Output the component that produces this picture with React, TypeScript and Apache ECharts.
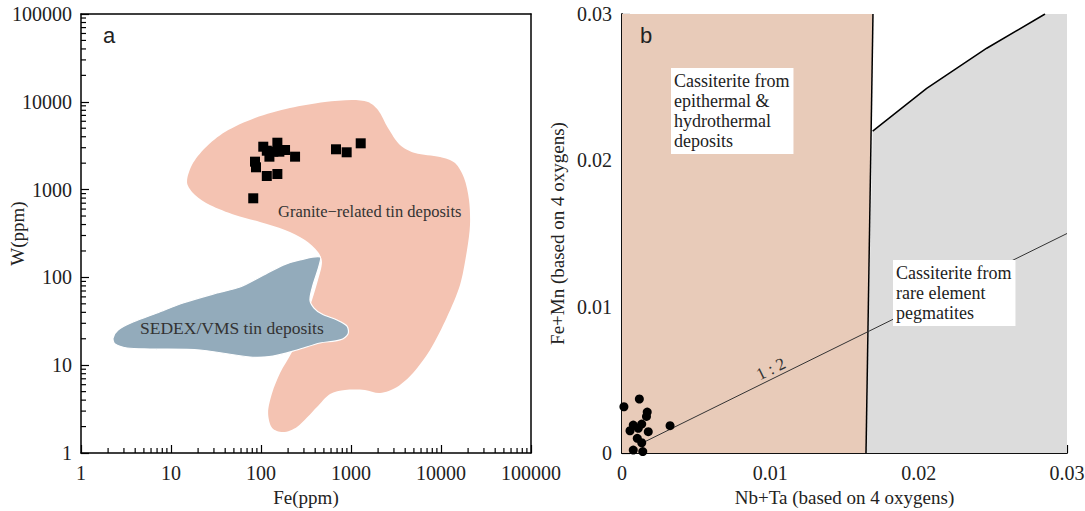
import React, { useEffect, useRef } from "react";
import * as echarts from "echarts";

// ---------- Panel a (log-log) ----------
const logTicks = [1, 10, 100, 1000, 10000, 100000];
const minorMultipliers = [2, 3, 4, 5, 6, 7, 8, 9];

// Granite-related tin deposits field outline [Fe, W]
const granitePts: [number, number][] = [
  [15.1, 1189], [17.1, 1905], [23.9, 2977], [39.8, 4529], [85.8, 6534], [210, 8490],
  [514, 9940], [1026, 10490], [1545, 9940], [1995, 8070], [2576, 5035], [3501, 3223],
  [5140, 2612], [9750, 2350], [14320, 2009], [18030, 1355], [20470, 762], [21000, 395],
  [19450, 205], [16260, 81.9], [11660, 35.4], [7550, 14.9], [4885, 8.15], [3245, 5.65],
  [2100, 4.82], [1430, 5.22], [858, 5.22], [585, 4.7], [419, 3.34], [251, 1.98],
  [176, 1.73], [133, 1.93], [120, 2.86], [133, 4.82], [163, 8.15], [221, 14.1],
  [308, 32.7], [369, 55.3], [430, 93.4], [476, 150], [430, 195], [308, 267],
  [185, 347], [97.5, 428], [51.4, 514], [27.1, 668], [18.5, 868],
];

// SEDEX/VMS tin deposits field outline [Fe, W]
const sedexPts: [number, number][] = [
  [2.27, 20.4], [2.58, 25.2], [3.78, 31.0], [6.99, 39.3], [13.6, 51.1], [32.4, 66.4],
  [58.4, 77.8], [97.5, 101], [176, 138], [271, 158], [453, 171], [441, 135],
  [378, 81.9], [350, 55.3], [388, 44.8], [476, 38.3], [699, 32.7], [903, 27.9],
  [926, 22.7], [755, 19.4], [453, 17.9], [251, 14.9], [136, 12.7], [75.5, 12.4],
  [21.0, 14.9], [5.84, 15.3], [3.24, 15.7], [2.39, 17.4],
];

// Samples [Fe ppm, W ppm]
const samplesA: [number, number][] = [
  [106, 3080], [116, 2773], [124, 2371], [137, 2703], [152, 3420], [160, 2703],
  [185, 2825], [239, 2371], [85.8, 2080], [88, 1795], [116, 1429], [152, 1506],
  [82, 796], [681, 2878], [895, 2660], [1282, 3366],
];

// ---------- Panel b (linear) ----------
const orangeField: [number, number][] = [[0, 0], [0.01645, 0], [0.01692, 0.03], [0, 0.03]];
const greyField: [number, number][] = [
  [0.01645, 0], [0.03, 0], [0.03, 0.03], [0.02852, 0.03], [0.02459, 0.02766],
  [0.02054, 0.02492], [0.0169, 0.022],
];
const boundaryLine: [number, number][] = [[0.01645, 0], [0.01692, 0.03]];
const curveLine: [number, number][] = [[0.0169, 0.022], [0.02054, 0.02492], [0.02459, 0.02766], [0.02852, 0.03]];
const ratioLine: [number, number][] = [[0.0015, 0.00075], [0.03, 0.015]];

// Samples [Nb+Ta, Fe+Mn]
const samplesB: [number, number][] = [
  [0.00013, 0.00316], [0.00117, 0.00369], [0.0017, 0.0028], [0.00165, 0.0025],
  [0.00324, 0.00187], [0.00076, 0.00191], [0.00133, 0.00198], [0.00054, 0.00152],
  [0.0011, 0.00169], [0.00177, 0.00146], [0.00103, 0.001], [0.00133, 0.0007],
  [0.00076, 0.0002], [0.0014, 0.0001],
];

const SERIF = "'Liberation Serif', 'Times New Roman', serif";
const TXT = "#222";

export default function App() {
  const ref = useRef<HTMLDivElement>(null);
  useEffect(() => {
    if (!ref.current) return;
    const chart = echarts.init(ref.current, undefined, { renderer: "svg" });

    const polySeries = (pts: [number, number][], fill: string, axis: number, anchor: number[], stroke?: string, smooth = 0.3) => ({
      type: "custom",
      xAxisIndex: axis,
      yAxisIndex: axis,
      data: [anchor],
      silent: true,
      z: 1,
      renderItem: (_p: any, api: any) => ({
        type: "polygon",
        shape: { points: pts.map((p) => api.coord(p)), smooth },
        style: { fill, stroke: stroke || "none", lineWidth: stroke ? 1.2 : 0 },
      }),
    });

    const minorVals: number[] = [];
    for (let k = 0; k < 5; k++) for (const m of minorMultipliers) minorVals.push(m * Math.pow(10, k));

    const minorTickSeries = {
      type: "custom",
      xAxisIndex: 0,
      yAxisIndex: 0,
      data: [[10, 10]],
      silent: true,
      z: 5,
      renderItem: (_p: any, api: any) => {
        const children: any[] = [];
        const x0 = api.coord([1, 1])[0];
        const y0 = api.coord([1, 1])[1];
        for (const v of minorVals) {
          const x = api.coord([v, 1])[0];
          const y = api.coord([1, v])[1];
          children.push({ type: "line", shape: { x1: x, y1: y0, x2: x, y2: y0 - 5 }, style: { stroke: "#000", lineWidth: 1.2 } });
          children.push({ type: "line", shape: { x1: x0, y1: y, x2: x0 + 5, y2: y }, style: { stroke: "#000", lineWidth: 1.2 } });
        }
        return { type: "group", children };
      },
    };

    const frameAxis = (pos: string, gridIndex: number) => ({
      type: "value",
      gridIndex,
      position: pos,
      min: 0,
      max: 1,
      axisLine: { show: true, lineStyle: { color: "#000", width: 1.5 } },
      axisTick: { show: false },
      axisLabel: { show: false },
      splitLine: { show: false },
    });

    const labelStyle = { color: TXT, fontFamily: SERIF, fontSize: 20 };
    const nameStyle = { color: TXT, fontFamily: SERIF, fontSize: 19 };

    const option: any = {
      animation: false,
      grid: [
        { left: 81, top: 14, width: 450, height: 439, containLabel: false, outerBoundsMode: "none" },
        { left: 622, top: 14, width: 445, height: 439, containLabel: false, outerBoundsMode: "none" },
      ],
      xAxis: [
        {
          type: "log", logBase: 10, gridIndex: 0, min: logTicks[0], max: logTicks[logTicks.length - 1],
          position: "bottom",
          name: "Fe(ppm)", nameLocation: "middle", nameGap: 33, nameTextStyle: nameStyle,
          axisLine: { lineStyle: { color: "#000", width: 1.5 } },
          axisTick: { inside: true, length: 8, lineStyle: { color: "#000", width: 1.2 } },
          axisLabel: { ...labelStyle, margin: 10, formatter: (v: number) => String(Math.round(v)) },
          splitLine: { show: false },
        },
        frameAxis("top", 0),
        {
          type: "value", gridIndex: 1, min: 0, max: 0.03, interval: 0.01, position: "bottom",
          name: "Nb+Ta (based on 4 oxygens)", nameLocation: "middle", nameGap: 33, nameTextStyle: nameStyle,
          axisLine: { lineStyle: { color: "#000", width: 1.5 } },
          axisTick: { inside: true, length: 8, lineStyle: { color: "#000", width: 1.2 } },
          minorTick: { show: true, splitNumber: 2, length: 5, lineStyle: { color: "#000", width: 1.2 } },
          axisLabel: { ...labelStyle, margin: 10 },
          splitLine: { show: false },
        },
        frameAxis("top", 1),
      ],
      yAxis: [
        {
          type: "log", logBase: 10, gridIndex: 0, min: logTicks[0], max: logTicks[logTicks.length - 1],
          position: "left",
          name: "W(ppm)", nameLocation: "middle", nameGap: 54, nameMoveOverlap: false, nameTextStyle: nameStyle,
          axisLine: { lineStyle: { color: "#000", width: 1.5 } },
          axisTick: { inside: true, length: 8, lineStyle: { color: "#000", width: 1.2 } },
          axisLabel: { ...labelStyle, margin: 9, formatter: (v: number) => String(Math.round(v)) },
          splitLine: { show: false },
        },
        frameAxis("right", 0),
        {
          type: "value", gridIndex: 1, min: 0, max: 0.03, interval: 0.01, position: "left",
          name: "Fe+Mn (based on 4 oxygens)", nameLocation: "middle", nameGap: 55, nameTextStyle: nameStyle,
          axisLine: { lineStyle: { color: "#000", width: 1.5 } },
          axisTick: { inside: true, length: 8, lineStyle: { color: "#000", width: 1.2 } },
          minorTick: { show: true, splitNumber: 2, length: 5, lineStyle: { color: "#000", width: 1.2 } },
          axisLabel: { ...labelStyle, margin: 10 },
          splitLine: { show: false },
        },
        frameAxis("right", 1),
      ],
      series: [
        polySeries(granitePts, "#f4c3b2", 0, [10, 10]),
        polySeries(sedexPts, "#93abbb", 0, [10, 10], "#ffffff"),
        minorTickSeries,
        {
          type: "scatter", xAxisIndex: 0, yAxisIndex: 0, data: samplesA,
          symbol: "rect", symbolSize: 10, itemStyle: { color: "#000", opacity: 1 }, z: 6,
        },
        { ...polySeries(orangeField, "#e8cbb9", 2, [0.01, 0.01], undefined, 0) },
        { ...polySeries(greyField, "#dcdcdc", 2, [0.01, 0.01], undefined, 0) },
        {
          type: "line", xAxisIndex: 2, yAxisIndex: 2, data: boundaryLine, symbol: "none",
          lineStyle: { color: "#000", width: 1.5 }, z: 3, silent: true,
        },
        {
          type: "line", xAxisIndex: 2, yAxisIndex: 2, data: curveLine, symbol: "none",
          lineStyle: { color: "#000", width: 1.5 }, z: 3, silent: true,
        },
        {
          type: "line", xAxisIndex: 2, yAxisIndex: 2, data: ratioLine, symbol: "none",
          lineStyle: { color: "#333", width: 1 }, z: 3, silent: true,
        },
        {
          type: "scatter", xAxisIndex: 2, yAxisIndex: 2, data: samplesB,
          symbol: "circle", symbolSize: 9, itemStyle: { color: "#000", opacity: 1 }, z: 6,
        },
      ],
      graphic: [
        { type: "text", left: 103, top: 24, z: 100, style: { text: "a", font: "22px 'Liberation Sans', Arial, sans-serif", fill: TXT } },
        { type: "text", left: 640, top: 24, z: 100, style: { text: "b", font: "22px 'Liberation Sans', Arial, sans-serif", fill: TXT } },
        { type: "text", left: 278, top: 203, z: 100, style: { text: "Granite\u2212related tin deposits", font: `16.5px ${SERIF}`, fill: "#333" } },
        { type: "text", left: 140, top: 319, z: 100, style: { text: "SEDEX/VMS tin deposits", font: `17.5px ${SERIF}`, fill: "#333" } },
        {
          type: "text", left: 671, top: 68, z: 100,
          style: {
            text: "Cassiterite from\nepithermal &\nhydrothermal\ndeposits", font: `18px ${SERIF}`, fill: TXT,
            lineHeight: 20, backgroundColor: "#fff", padding: [3, 4, 3, 3],
          },
        },
        {
          type: "text", left: 893, top: 260, z: 100,
          style: {
            text: "Cassiterite from\nrare element\npegmatites", font: `18px ${SERIF}`, fill: TXT,
            lineHeight: 20, backgroundColor: "#fff", padding: [3, 4, 3, 3],
          },
        },
        {
          type: "text", x: 771, y: 369, rotation: (26 * Math.PI) / 180, z: 100,
          style: { text: "1 : 2", font: `17px ${SERIF}`, fill: "#333", align: "center", verticalAlign: "middle" },
        },
      ],
    };
    chart.setOption(option);
    return () => chart.dispose();
  }, []);
  return <div ref={ref} style={{ position: "fixed", left: 0, top: 0, width: 1085, height: 511, background: "#fff" }} />;
}
